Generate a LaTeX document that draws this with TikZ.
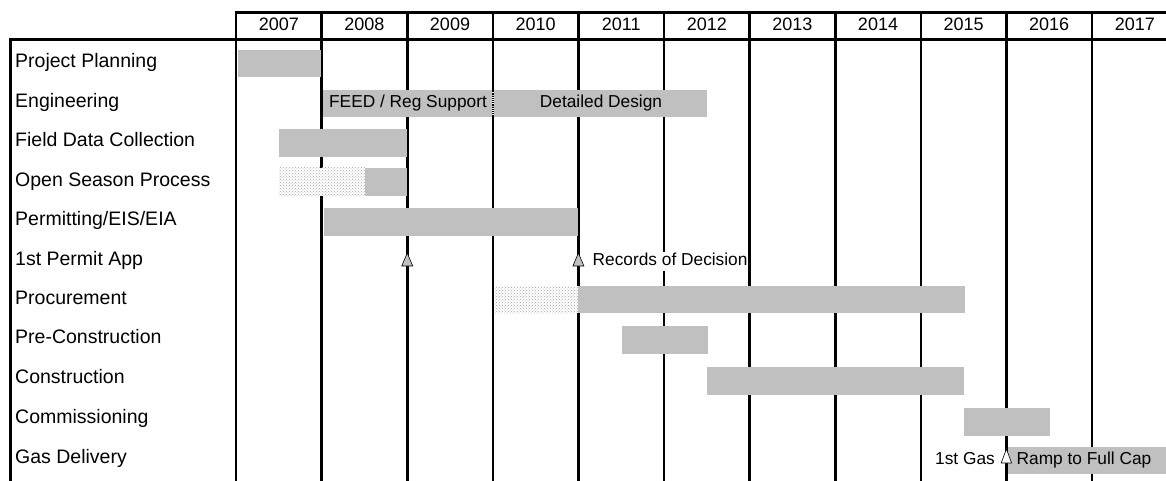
\documentclass[tikz,border=0pt]{standalone}
\usepackage{fontspec}
\setmainfont{Liberation Sans}
\usetikzlibrary{patterns}
\definecolor{bargray}{RGB}{192,192,192}
\tikzset{
  gridline/.style={line width=2.6pt, black},
  bar/.style={fill=bargray, draw=none},
  stipple/.style={preaction={fill=white}, pattern=crosshatch dots, pattern color=gray!70},
  rowlabel/.style={anchor=west, inner sep=0pt, text height=0.716em, text depth=0pt, font=\fontsize{19.5}{22}\selectfont},
  yearlabel/.style={inner sep=0pt, text height=0.716em, text depth=0pt, font=\fontsize{18}{21}\selectfont},
  bartext/.style={inner sep=0pt, text height=0.716em, text depth=0pt, font=\fontsize{17.3}{20}\selectfont},
  msgray/.style={fill=bargray, draw=black, line width=0.6pt, line join=miter},
  mswhite/.style={fill=white, draw=black, line width=0.6pt, line join=miter}
}
\begin{document}
\begin{tikzpicture}[x=1pt, y=-1pt]
\useasboundingbox (0,0) rectangle (1166,481);
% header lines
\draw[gridline] (234.7,12.7) -- (1166,12.7);
\draw[gridline] (9.2,39.3) -- (1166,39.3);
\draw[gridline] (10.5,39.3) -- (10.5,481);
% year columns
\foreach \i/\yr in {0/2007,1/2008,2/2009,3/2010,4/2011,5/2012,6/2013,7/2014,8/2015,9/2016,10/2017}{
  \pgfmathsetmacro{\xx}{236+85.6*\i}
  \draw[gridline] (\xx,11.4) -- (\xx,481);
  \node[yearlabel] (y\yr) at (\xx+42.8,27) {\yr};
}
% row labels
\node[rowlabel] (l0) at (15,63.5) {Project Planning};
\node[rowlabel] (l1) at (15,103.5) {Engineering};
\node[rowlabel] (l2) at (15,143) {Field Data Collection};
\node[rowlabel] (l3) at (15,182.5) {Open Season Process};
\node[rowlabel] (l4) at (15,222) {Permitting/EIS/EIA};
\node[rowlabel] (l5) at (15,261.5) {1st Permit App};
\node[rowlabel] (l6) at (15,300.5) {Procurement};
\node[rowlabel] (l7) at (15,340) {Pre-Construction};
\node[rowlabel] (l8) at (15,380) {Construction};
\node[rowlabel] (l9) at (15,420) {Commissioning};
\node[rowlabel] (l10) at (15,459.5) {Gas Delivery};
% bars
\fill[bar] (237.5,50) rectangle (321,77);
\fill[bar] (322.5,90) rectangle (707,117);
\draw[white, line width=2.6pt, dash pattern=on 1pt off 1.2pt] (492.8,90) -- (492.8,117);
\draw[black, line width=2.6pt, dash pattern=on 1.2pt off 1pt, dash phase=1pt] (492.8,90) -- (492.8,117);
\node[bartext] (feed) at (408,103.5) {FEED / Reg Support};
\node[bartext] (dd) at (601,103.5) {Detailed Design};
\fill[bar] (279,129) rectangle (406.5,157);
\fill[stipple] (279,168) rectangle (365,196);
\fill[bar] (365,168) rectangle (406.5,196);
\fill[bar] (323.5,208) rectangle (578.4,236);
\fill[stipple] (494.5,286) rectangle (578.4,313);
\fill[bar] (578.4,286) rectangle (965,313);
\fill[bar] (622,326) rectangle (708,354);
\fill[bar] (707,367) rectangle (964,395);
\fill[bar] (964,408) rectangle (1050,436);
\fill[bar] (1007.5,447) rectangle (1166,474);
% milestones
\draw[msgray] (407.2,253) -- (412.7,266) -- (401.7,266) -- cycle;
\draw[msgray] (578.4,253) -- (583.9,266) -- (572.9,266) -- cycle;
\node[bartext, anchor=west, fill=white, inner xsep=0pt, inner ysep=6pt] (rod) at (592.5,261.5) {Records of Decision};
\draw[mswhite] (1006.4,449) -- (1011.6,463) -- (1001.2,463) -- cycle;
\node[bartext, anchor=east] (gas1) at (995,460.5) {1st Gas};
\node[bartext, anchor=west] (ramp) at (1016.5,460.5) {Ramp to Full Cap};
\end{tikzpicture}
\end{document}
